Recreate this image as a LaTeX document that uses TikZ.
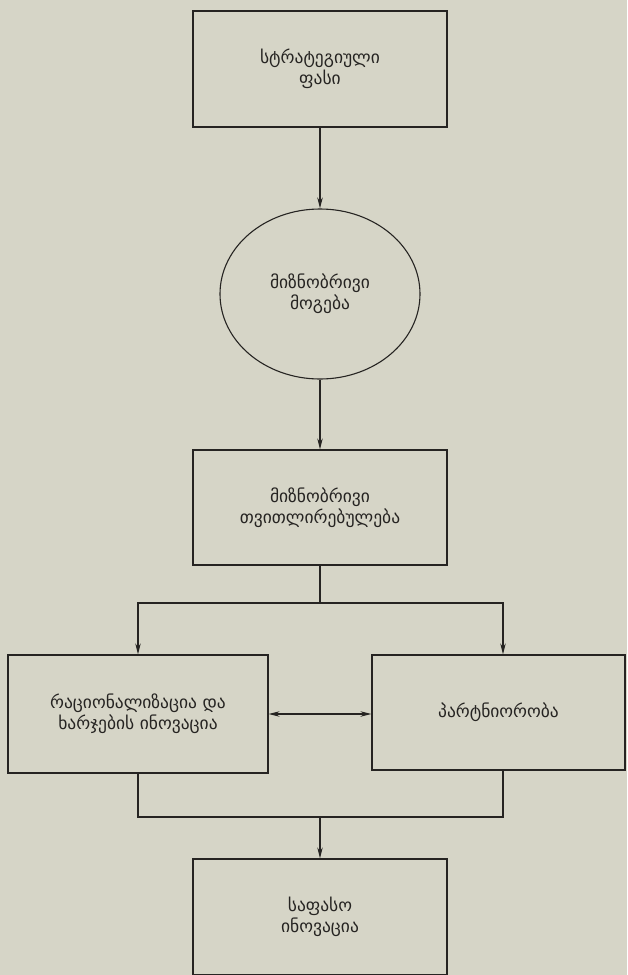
\documentclass[tikz,border=0pt]{standalone}
\usepackage{fontspec}
\setmainfont{DejaVu Sans}
\usetikzlibrary{shapes.geometric,arrows.meta}
\definecolor{paper}{RGB}{214,213,199}
\definecolor{ink}{RGB}{38,36,34}
\begin{document}
\begin{tikzpicture}[x=1pt,y=-1pt,
  boxnode/.style={draw=ink,line width=1.2pt,rectangle,inner sep=0pt,align=center,font=\fontsize{17.5}{21}\selectfont,text=ink},
  ellnode/.style={draw=ink,line width=1.1pt,ellipse,inner sep=0pt,align=center,font=\fontsize{17.5}{21}\selectfont,text=ink},
  conn/.style={draw=ink,line width=1.1pt},
  arr/.style={conn,-{Stealth[length=11pt,width=5.5pt]}},
  darr/.style={conn,{Stealth[length=11pt,width=5.5pt]}-{Stealth[length=11pt,width=5.5pt]}}]
\fill[paper] (0,0) rectangle (627,975);
\useasboundingbox (0,0) rectangle (627,975);
\node[boxnode,minimum width=254pt,minimum height=116pt] (strat) at (320,69) {სტრატეგიული\\ფასი};
\node[ellnode,minimum width=200pt,minimum height=170pt] (goal) at (320,294) {მიზნობრივი\\მოგება};
\node[boxnode,minimum width=254pt,minimum height=115pt] (cost) at (320,507.5) {მიზნობრივი\\თვითლირებულება};
\node[boxnode,minimum width=260pt,minimum height=118pt] (rat) at (138,714) {რაციონალიზაცია და\\ხარჯების ინოვაცია};
\node[boxnode,minimum width=253pt,minimum height=115pt] (part) at (498.5,712.5) {პარტნიორობა};
\node[boxnode,minimum width=254pt,minimum height=116pt] (price) at (320,917) {საფასო\\ინოვაცია};
\coordinate (split) at (320,603);
\coordinate (join) at (320,817);
\draw[arr] (strat.south) -- (goal.north);
\draw[arr] (goal.south) -- (cost.north);
\draw[conn] (cost.south) -- (split);
\draw[arr] (split) -| (rat.north);
\draw[arr] (split) -| ([xshift=4.5pt]part.north);
\draw[darr] (rat.east) -- (rat.east -| part.west);
\draw[conn] (rat.south) |- (join);
\draw[conn] ([xshift=4.5pt]part.south) |- (join);
\draw[arr] (join) -- (price.north);
\end{tikzpicture}
\end{document}
